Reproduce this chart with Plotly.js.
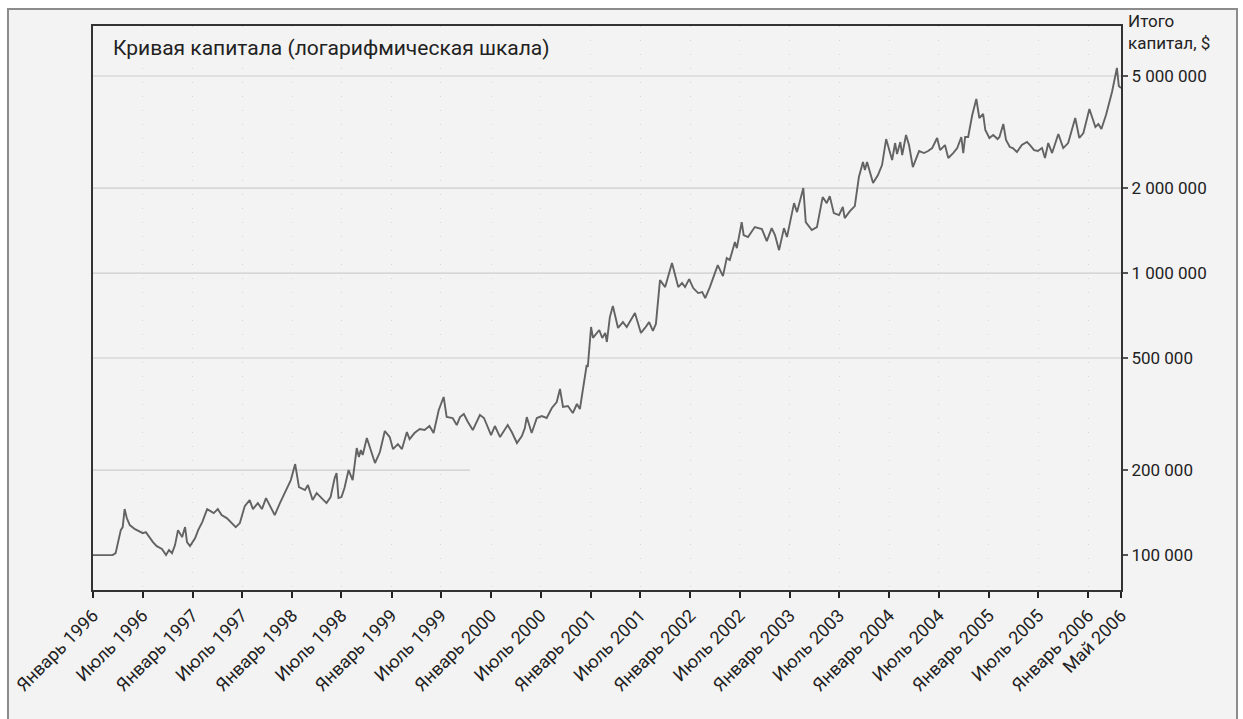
<!DOCTYPE html>
<html>
<head>
<meta charset="utf-8">
<script src="https://cdn.plot.ly/plotly-3.0.1.min.js"></script>
<style>
  html, body { margin: 0; padding: 0; background: #ffffff; width: 1243px; height: 719px; overflow: hidden; }
  #frame { position: absolute; left: 7px; top: 8px; width: 1227px; height: 720px; border: 2px solid #8c8c8c; background: #f3f3f3; }
  #chart { width: 1227px; height: 720px; }
</style>
</head>
<body>
<div id="frame"><div id="chart"></div></div>
<script>
const dates = [
'1996-01-01','1996-03-13','1996-03-24','1996-04-01','1996-04-12','1996-04-19','1996-04-26','1996-05-04','1996-05-15','1996-06-03','1996-06-21','1996-07-02','1996-07-13','1996-07-27','1996-08-08','1996-08-22','1996-09-10','1996-09-25','1996-10-06','1996-10-17','1996-10-28','1996-11-08','1996-11-23','1996-12-04','1996-12-11','1996-12-22',
'1997-01-10','1997-01-21','1997-02-05','1997-02-23','1997-03-08','1997-03-19','1997-04-03','1997-04-17','1997-05-06','1997-05-24','1997-06-08','1997-06-23','1997-07-11','1997-07-29','1997-08-10','1997-08-28','1997-09-12','1997-09-27','1997-10-11','1997-10-29','1997-11-17','1997-12-13','1997-12-27',
'1998-01-12','1998-01-26','1998-02-17','1998-02-28','1998-03-17','1998-04-01','1998-04-19','1998-05-07','1998-05-22','1998-06-06','1998-06-13','1998-06-20','1998-07-01','1998-07-12','1998-07-27','1998-08-11','1998-08-26','1998-09-03','1998-09-10','1998-09-17','1998-10-02','1998-10-20','1998-11-01','1998-11-19','1998-12-07','1998-12-25',
'1999-01-06','1999-01-24','1999-02-08','1999-02-26','1999-03-08','1999-03-26','1999-04-14','1999-05-02','1999-05-20','1999-06-04','1999-06-23','1999-07-11','1999-07-22','1999-08-13','1999-08-28','1999-09-09','1999-09-23','1999-10-08','1999-10-26','1999-11-21','1999-12-06',
'2000-01-01','2000-01-15','2000-02-03','2000-03-02','2000-03-17','2000-04-05','2000-04-23','2000-05-04','2000-05-11','2000-05-29','2000-06-17','2000-07-05','2000-07-23','2000-08-11','2000-08-29','2000-09-10','2000-09-21','2000-10-09','2000-10-27','2000-11-11','2000-11-22','2000-12-10','2000-12-17','2000-12-21','2000-12-25',
'2001-01-02','2001-01-09','2001-02-01','2001-02-12','2001-02-23','2001-03-01','2001-03-12','2001-03-23','2001-04-11','2001-04-29','2001-05-13','2001-06-12','2001-07-04','2001-07-19','2001-08-03','2001-08-17','2001-08-28','2001-09-12','2001-10-01','2001-10-26','2001-11-18','2001-12-02','2001-12-13','2001-12-28',
'2002-01-12','2002-01-30','2002-02-14','2002-02-25','2002-03-14','2002-04-12','2002-05-01','2002-05-15','2002-05-26','2002-06-14','2002-06-21','2002-07-09','2002-07-16','2002-08-01','2002-08-26','2002-09-21','2002-10-09','2002-10-27','2002-11-08','2002-11-23','2002-12-11','2002-12-22',
'2003-01-17','2003-01-28','2003-02-20','2003-03-01','2003-03-23','2003-04-11','2003-05-02','2003-05-17','2003-05-28','2003-06-12','2003-07-01','2003-07-15','2003-07-22','2003-08-10','2003-08-28','2003-09-12','2003-09-27','2003-10-04','2003-10-12','2003-11-03','2003-11-21','2003-12-06','2003-12-21',
'2004-01-12','2004-01-23','2004-01-30','2004-02-11','2004-02-18','2004-03-03','2004-03-14','2004-03-28','2004-04-20','2004-05-08','2004-05-23','2004-06-07','2004-06-25','2004-07-06','2004-07-24','2004-08-05','2004-08-23','2004-09-07','2004-09-22','2004-09-29','2004-10-06','2004-10-17','2004-11-01','2004-11-16','2004-11-27','2004-12-11','2004-12-19',
'2005-01-03','2005-01-17','2005-02-02','2005-02-09','2005-02-23','2005-03-05','2005-03-19','2005-03-30','2005-04-14','2005-05-02','2005-05-21','2005-06-01','2005-06-16','2005-06-30','2005-07-15','2005-07-26','2005-08-07','2005-08-21','2005-09-13','2005-10-01','2005-10-19','2005-11-14','2005-11-29','2005-12-14',
'2006-01-05','2006-01-27','2006-02-07','2006-02-18','2006-03-07','2006-03-29','2006-04-16','2006-04-23','2006-05-01'
];

const capital = [
100000,100000,101600,110300,122600,125700,145600,135300,127800,123600,121600,119600,120600,114900,111200,107600,105100,100000,104200,101600,108500,122600,115800,125700,111200,107600,
114900,122600,130900,145600,143200,140900,145600,138600,135300,129900,125700,129900,149200,156700,145600,152900,145600,159300,150400,138600,152900,172900,184500,
210300,174200,170100,177100,156700,165900,159300,152900,160600,187500,195400,159300,160600,172900,200200,184500,239700,222700,235800,226400,260100,230100,212000,232000,275400,262200,
237700,247600,237700,273100,258000,270900,279900,277600,286900,270900,326900,363600,308700,306300,289200,308700,316400,296400,277600,313800,306300,
266500,286900,262200,289200,273100,249700,264300,282200,308700,270900,306300,311300,306300,332300,349000,388200,335100,337800,319000,343400,329600,424600,472200,464500,533800,
644100,588800,628500,588800,613300,569800,698200,763800,638900,670200,644100,721400,613300,638900,670200,623400,660100,944600,892100,1085000,892100,921800,892100,952300,
884900,849500,856400,815400,892100,1067000,975800,1130000,1112000,1288000,1226000,1517000,1364000,1342000,1456000,1432000,1299000,1444000,1364000,1206000,1444000,1342000,
1771000,1645000,2002000,1517000,1421000,1456000,1860000,1771000,1875000,1632000,1606000,1715000,1567000,1659000,1729000,2191000,2476000,2320000,2476000,2086000,2227000,2416000,2988000,
2517000,2892000,2643000,2916000,2622000,3087000,2845000,2377000,2709000,2665000,2709000,2776000,3013000,2731000,2845000,2559000,2665000,2776000,3038000,2665000,3038000,3038000,3636000,4143000,3548000,3666000,3216000,
3013000,3087000,2988000,3038000,3378000,2964000,2799000,2776000,2687000,2845000,2916000,2845000,2731000,2709000,2776000,2559000,2892000,2665000,3113000,2776000,2892000,3548000,3013000,3138000,
3818000,3296000,3378000,3243000,3636000,4387000,5338000,4608000,4533000
];

const xTickDates = ['1996-01-01','1996-07-01','1997-01-01','1997-07-01','1998-01-01','1998-07-01','1999-01-01','1999-07-01','2000-01-01','2000-07-01','2001-01-01','2001-07-01','2002-01-01','2002-07-01','2003-01-01','2003-07-01','2004-01-01','2004-07-01','2005-01-01','2005-07-01','2006-01-01','2006-05-01'];
const xTickLabels = ['Январь 1996','Июль 1996','Январь 1997','Июль 1997','Январь 1998','Июль 1998','Январь 1999','Июль 1999','Январь 2000','Июль 2000','Январь 2001','Июль 2001','Январь 2002','Июль 2002','Январь 2003','Июль 2003','Январь 2004','Июль 2004','Январь 2005','Июль 2005','Январь 2006','Май 2006'];

const yTickValues = [100000, 200000, 500000, 1000000, 2000000, 5000000];
const yTickLabels = ['100 000', '200 000', '500 000', '1 000 000', '2 000 000', '5 000 000'];

const xRange = ['1996-01-01', '2006-05-01'];
const yRange = [75200, 7520000];

const fullGridValues = [500000, 1000000, 2000000, 5000000];
const partialGridValue = 200000;
const partialGridEnd = '1999-10-15';

const chartTitle = 'Кривая капитала (логарифмическая шкала)';
const yTitle = 'Итого<br>капитал, $';

const FONT = 'Roboto, "Liberation Sans", sans-serif';
const gridColor = '#cccccc';

const traces = [];
fullGridValues.forEach(v => {
  traces.push({x: xRange, y: [v, v], mode: 'lines', line: {color: gridColor, width: 1.2}, hoverinfo: 'skip', showlegend: false});
});
traces.push({x: [xRange[0], partialGridEnd], y: [partialGridValue, partialGridValue], mode: 'lines', line: {color: gridColor, width: 1.2}, hoverinfo: 'skip', showlegend: false});
traces.push({x: dates, y: capital, mode: 'lines', line: {color: '#636363', width: 1.9}, showlegend: false, name: 'Капитал'});

const layout = {
  width: 1227, height: 720,
  margin: {l: 84, r: 115, t: 16, b: 140},
  paper_bgcolor: '#f3f3f3',
  plot_bgcolor: '#f3f3f3',
  font: {family: FONT, size: 17, color: '#222222'},
  showlegend: false,
  hovermode: false,
  xaxis: {
    type: 'date',
    range: xRange,
    tickmode: 'array',
    tickvals: xTickDates,
    ticktext: xTickLabels,
    tickangle: -45,
    ticks: 'outside', ticklen: 6, tickwidth: 2, tickcolor: '#222',
    showline: true, linecolor: '#333', linewidth: 2, mirror: true,
    showgrid: true, gridcolor: '#d6d6d6', griddash: '1px,13px', gridwidth: 1,
    zeroline: false,
    tickfont: {family: FONT, size: 18, color: '#222'}
  },
  yaxis: {
    type: 'log',
    range: [Math.log10(yRange[0]), Math.log10(yRange[1])],
    side: 'right',
    tickmode: 'array',
    tickvals: yTickValues,
    ticktext: yTickLabels,
    ticks: 'outside', ticklen: 5, tickwidth: 2, tickcolor: '#555',
    showline: true, linecolor: '#333', linewidth: 2, mirror: true,
    showgrid: false, zeroline: false,
    tickfont: {family: FONT, size: 17, color: '#222'}
  },
  annotations: [
    {text: chartTitle, xref: 'paper', yref: 'paper', x: 0, y: 1, xanchor: 'left', yanchor: 'middle', xshift: 18, yshift: -22, showarrow: false, font: {family: FONT, size: 21, color: '#222'}},
    {text: yTitle, xref: 'paper', yref: 'paper', x: 1, y: 1, xanchor: 'left', yanchor: 'middle', xshift: 5, yshift: -6, align: 'left', showarrow: false, font: {family: FONT, size: 17, color: '#222'}}
  ]
};

Plotly.newPlot('chart', traces, layout, {displayModeBar: false, staticPlot: true});
</script>
</body>
</html>
